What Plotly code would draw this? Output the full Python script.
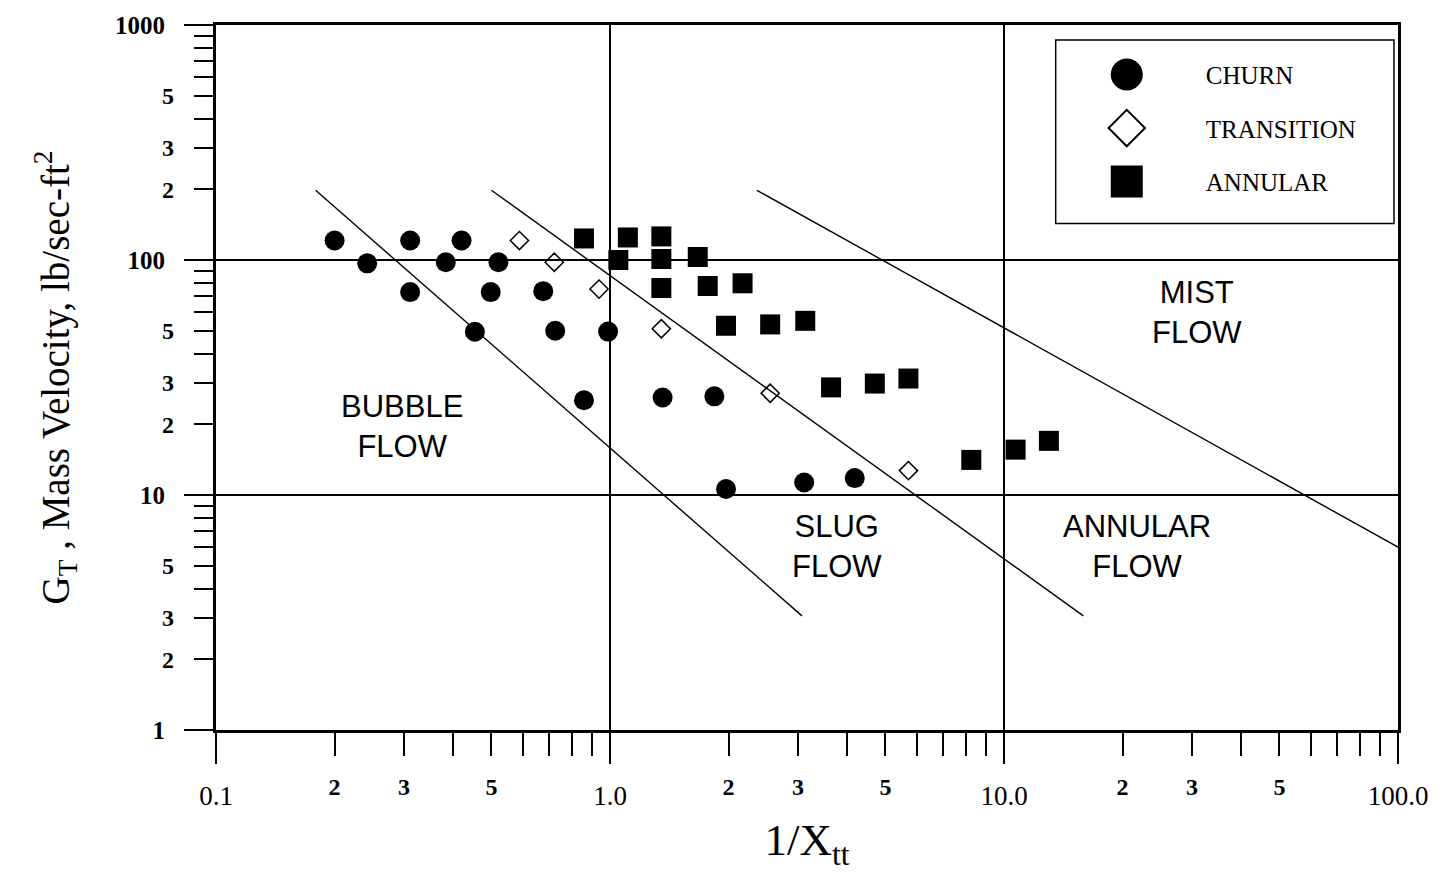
import math
import plotly.graph_objects as go

# ---------------- data ----------------
churn_x = [0.2, 0.242, 0.311, 0.311, 0.383, 0.42, 0.454, 0.498, 0.521,
           0.677, 0.726, 0.859, 0.989, 1.36, 1.84, 1.97, 3.11, 4.18]
churn_y = [121, 96.8, 121, 73, 97.8, 121, 49.5, 73, 97.8,
           73.7, 50, 25.3, 49.6, 26.0, 26.3, 10.6, 11.3, 11.8]

trans_x = [0.589, 0.722, 0.938, 1.35, 2.55, 5.72]
trans_y = [121, 97.8, 75.2, 51, 27.1, 12.7]

annular_x = [0.859, 1.11, 1.35, 1.05, 1.35, 1.67, 1.35, 1.77, 2.17,
             1.97, 2.55, 3.13, 3.64, 4.70, 5.72, 8.26, 10.7, 13.0]
annular_y = [123.5, 124.7, 126, 100, 101, 103, 76, 77.5, 79.6,
             52.5, 53.2, 55.1, 28.7, 29.8, 31.3, 14.1, 15.6, 17.0]

# regime boundary lines (end points)
bound1_x = [0.179, 3.07]
bound1_y = [198, 3.06]
bound2_x = [0.5, 15.9]
bound2_y = [198, 3.06]
bound3_x = [2.36, 100]
bound3_y = [198, 6.0]

# region labels
region_text = ["BUBBLE<br>FLOW", "SLUG<br>FLOW", "ANNULAR<br>FLOW", "MIST<br>FLOW"]
region_x = [0.296, 3.76, 21.8, 30.9]
region_y = [19.5, 6.05, 6.05, 59.5]

# axis tick labels
x_major_vals = [0.1, 1, 10, 100]
x_major_text = ["0.1", "1.0", "10.0", "100.0"]
x_minor_vals = [0.2, 0.3, 0.5, 2, 3, 5, 20, 30, 50]
x_minor_text = ["2", "3", "5", "2", "3", "5", "2", "3", "5"]
y_major_vals = [1, 10, 100, 1000]
y_major_text = ["1", "10", "100", "1000"]
y_minor_vals = [2, 3, 5, 20, 30, 50, 200, 300, 500]
y_minor_text = ["2", "3", "5", "2", "3", "5", "2", "3", "5"]

digits = [2, 3, 4, 5, 6, 7, 8, 9]
x_minor_ticks = [d * 10 ** e for e in (-1, 0, 1) for d in digits]
y_minor_ticks = [d * 10 ** e for e in (0, 1, 2) for d in digits]

SERIF = "Liberation Serif"
SANS = "Liberation Sans"

fig = go.Figure()

line_style = dict(color="black", width=1.4)
for bx, by in [(bound1_x, bound1_y), (bound2_x, bound2_y), (bound3_x, bound3_y)]:
    fig.add_trace(go.Scatter(x=bx, y=by, mode="lines", line=line_style,
                             showlegend=False, hoverinfo="skip"))

fig.add_trace(go.Scatter(x=churn_x, y=churn_y, mode="markers", name="CHURN",
                         legendgroup="a",
                         marker=dict(symbol="circle", size=20, color="black")))
fig.add_trace(go.Scatter(x=trans_x, y=trans_y, mode="markers", name="TRANSITION",
                         legendgroup="b",
                         marker=dict(symbol="diamond-open", size=14, color="black",
                                     line=dict(width=1.5, color="black"))))
fig.add_trace(go.Scatter(x=annular_x, y=annular_y, mode="markers", name="ANNULAR",
                         legendgroup="c",
                         marker=dict(symbol="square", size=20, color="black")))

# invisible helper trace on the secondary (label-only) axes
fig.add_trace(go.Scatter(x=[1], y=[10], xaxis="x2", yaxis="y2", mode="markers",
                         marker=dict(opacity=0), showlegend=False, hoverinfo="skip"))

# annotations on log axes take log10 positions
for t, x, y in zip(region_text, region_x, region_y):
    fig.add_annotation(x=math.log10(x), y=math.log10(y), xref="x", yref="y",
                       text=t, showarrow=False,
                       font=dict(family=SANS, size=31, color="black"),
                       xanchor="center", yanchor="middle")

# legend frame
fig.add_shape(type="rect", xref="paper", yref="paper",
              x0=0.7104, x1=0.9966, y0=0.7183, y1=0.9789,
              line=dict(color="black", width=1.5), fillcolor="rgba(0,0,0,0)")

axis_common = dict(type="log", showline=True, linecolor="black", linewidth=3,
                   mirror=True, showgrid=True, gridcolor="black", gridwidth=1.5,
                   zeroline=False)

fig.update_layout(
    width=1440, height=875,
    margin=dict(l=216, r=36, t=20, b=145),
    plot_bgcolor="white", paper_bgcolor="white",
    showlegend=True,
    legend=dict(x=0.7037, y=0.962, xanchor="left", yanchor="top",
                bgcolor="rgba(0,0,0,0)", borderwidth=0,
                font=dict(family=SERIF, size=25, color="black"),
                traceorder="grouped", tracegroupgap=18, itemwidth=148),
    xaxis=dict(**axis_common, range=[-1, 2],
               tickmode="array", tickvals=x_major_vals, ticktext=x_major_text,
               ticks="outside", ticklen=31, tickwidth=1.5, tickcolor="black",
               tickfont=dict(family=SERIF, size=27, color="black"),
               ticklabelstandoff=9,
               minor=dict(tickmode="array", tickvals=x_minor_ticks, ticks="outside",
                          ticklen=23, tickwidth=1.5, tickcolor="black", showgrid=False),
               title=dict(text="1/X<sub>tt</sub>", standoff=14,
                          font=dict(family=SERIF, size=45, color="black"))),
    yaxis=dict(**axis_common, range=[0, 3],
               tickmode="array", tickvals=y_major_vals,
               ticktext=["<b>%s</b>" % t for t in y_major_text],
               ticks="outside", ticklen=29, tickwidth=1.5, tickcolor="black",
               tickfont=dict(family=SERIF, size=25, color="black"),
               ticklabelstandoff=14,
               minor=dict(tickmode="array", tickvals=y_minor_ticks, ticks="outside",
                          ticklen=19, tickwidth=1.5, tickcolor="black", showgrid=False),
               title=dict(text="G<sub>T</sub> , Mass Velocity, lb/sec-ft<sup>2</sup>",
                          standoff=34,
                          font=dict(family=SERIF, size=39, color="black"))),
    xaxis2=dict(type="log", overlaying="x", anchor="y", side="bottom", range=[-1, 2],
                matches="x", showline=False, showgrid=False, zeroline=False,
                tickmode="array", tickvals=x_minor_vals,
                ticktext=["<b>%s</b>" % t for t in x_minor_text],
                ticks="", ticklabelstandoff=40,
                tickfont=dict(family=SERIF, size=24, color="black")),
    yaxis2=dict(type="log", overlaying="y", anchor="x", side="left", range=[0, 3],
                matches="y", showline=False, showgrid=False, zeroline=False,
                tickmode="array", tickvals=y_minor_vals,
                ticktext=["<b>%s</b>" % t for t in y_minor_text],
                ticks="", ticklabelstandoff=41,
                tickfont=dict(family=SERIF, size=24, color="black")),
)

post = """
var gd = document.getElementsByClassName('plotly-graph-div')[0];
function bigLegend(){
  gd.querySelectorAll('.legendpoints path').forEach(function(p){
    var t = p.getAttribute('transform') || '';
    if (t.indexOf('scale') < 0) { p.setAttribute('transform', t + ' scale(2)'); }
    p.style.strokeWidth = '1px';
  });
}
bigLegend();
gd.on('plotly_afterplot', bigLegend);
"""

fig.write_html("out.html", post_script=post)
